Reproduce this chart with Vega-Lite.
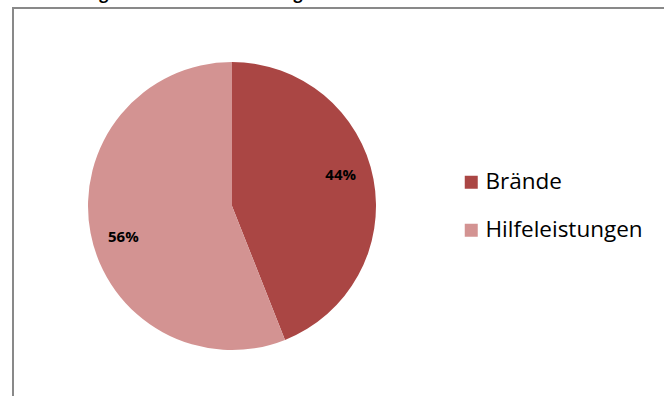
{
  "$schema": "https://vega.github.io/schema/vega-lite/v6.json",
  "width": 653,
  "height": 390,
  "autosize": {"type": "none"},
  "padding": {"left": 13, "top": 8, "right": 0, "bottom": 0},
  "background": "white",
  "view": {"stroke": "#898989", "strokeWidth": 2},
  "title": {
    "text": "Verteilung der Einsätze nach Kategorie",
    "anchor": "start",
    "frame": "group",
    "dx": 12,
    "dy": -4,
    "offset": 2,
    "font": "Open Sans",
    "fontSize": 16,
    "fontWeight": "bold",
    "color": "#000000"
  },
  "data": {
    "values": [
      {"Kategorie": "Brände", "Anteil": 0.44},
      {"Kategorie": "Hilfeleistungen", "Anteil": 0.56}
    ]
  },
  "encoding": {
    "theta": {"field": "Anteil", "type": "quantitative", "stack": true},
    "color": {
      "field": "Kategorie",
      "type": "nominal",
      "scale": {"domain": ["Brände", "Hilfeleistungen"], "range": ["#AA4644", "#D39392"]},
      "legend": {
        "title": null,
        "orient": "none",
        "legendX": 447,
        "legendY": 163,
        "symbolType": "square",
        "symbolSize": 169,
        "symbolStrokeWidth": 0,
        "labelFont": "Open Sans",
        "labelFontSize": 22.5,
        "labelColor": "#000000",
        "labelOffset": 3,
        "rowPadding": 25,
        "padding": 0
      }
    },
    "order": {"field": "Kategorie", "sort": "ascending"}
  },
  "layer": [
    {"mark": {"type": "arc", "radius": 144, "x": 219, "y": 198}},
    {
      "mark": {"type": "text", "radius": 113, "thetaOffset": -0.09, "x": 219, "y": 198, "font": "Open Sans", "fontSize": 15, "fontWeight": "bold", "color": "#000000"},
      "encoding": {
        "text": {"field": "Anteil", "type": "quantitative", "format": ".0%"},
        "color": {"value": "#000000"}
      }
    }
  ]
}
